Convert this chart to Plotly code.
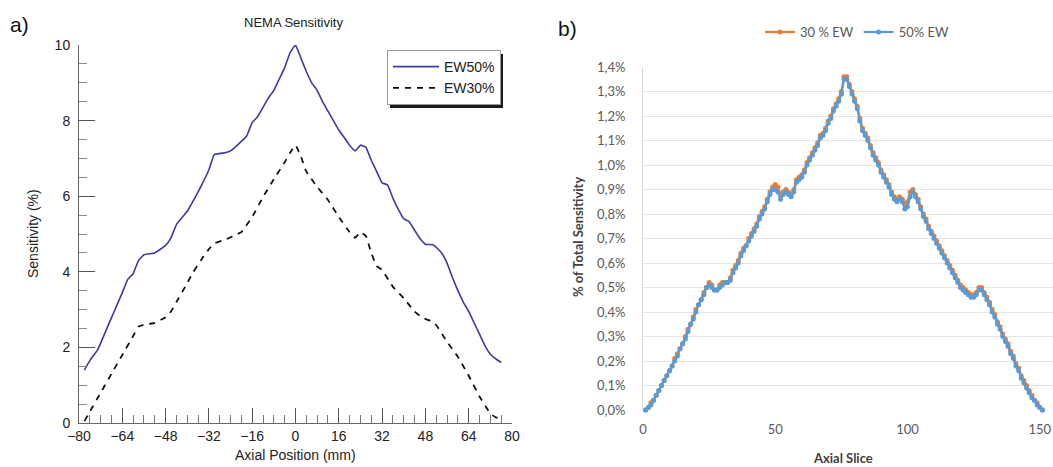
import plotly.graph_objects as go

# ---------------- Panel a) data ----------------
ew50_x = [-78, -76, -73, -70, -67, -64, -62, -60, -58, -56, -52, -48, -46, -44, -40, -38, -35, -32, -30,
          -26, -24, -20, -18, -16, -14, -12, -10, -8, -6, -4, -2, 0, 2, 4, 6, 8, 10, 12, 14, 16, 18, 20,
          22, 24, 26, 28, 30, 32, 34, 36, 38, 40, 42, 44, 46, 48, 51, 54, 56, 58, 60, 62, 64, 66, 68, 70,
          72, 74, 76]
ew50_y = [1.40, 1.65, 1.95, 2.45, 2.95, 3.45, 3.80, 3.95, 4.30, 4.45, 4.50, 4.70, 4.90, 5.25, 5.60, 5.85,
          6.25, 6.70, 7.10, 7.15, 7.20, 7.45, 7.60, 7.95, 8.10, 8.35, 8.60, 8.80, 9.10, 9.40, 9.80, 10.0,
          9.65, 9.30, 9.00, 8.80, 8.50, 8.25, 8.00, 7.75, 7.55, 7.35, 7.20, 7.35, 7.30, 6.95, 6.65, 6.35,
          6.30, 5.95, 5.65, 5.40, 5.33, 5.10, 4.88, 4.73, 4.71, 4.50, 4.23, 3.85, 3.50, 3.20, 2.95, 2.65,
          2.35, 2.05, 1.82, 1.70, 1.60]

ew30_x = [-78, -76, -72, -68, -64, -60, -58, -56, -52, -48, -46, -44, -40, -38, -35, -32, -30, -26, -22,
          -20, -16, -12, -8, -4, -2, 0, 2, 4, 8, 12, 16, 20, 22, 24, 26, 28, 30, 32, 36, 40, 44, 47, 50,
          52, 56, 60, 64, 68, 72, 74, 76]
ew30_y = [0.05, 0.30, 0.80, 1.30, 1.80, 2.30, 2.55, 2.60, 2.65, 2.80, 2.95, 3.20, 3.70, 3.97, 4.30, 4.60,
          4.75, 4.85, 4.98, 5.05, 5.45, 5.98, 6.45, 6.90, 7.15, 7.35, 7.05, 6.65, 6.25, 5.90, 5.45, 5.05,
          4.90, 5.05, 4.95, 4.50, 4.15, 4.05, 3.60, 3.30, 2.95, 2.78, 2.70, 2.59, 2.15, 1.75, 1.25, 0.70,
          0.25, 0.15, 0.10]

a_xticks = [-80, -64, -48, -32, -16, 0, 16, 32, 48, 64, 80]
a_yticks = [0, 2, 4, 6, 8, 10]

# ---------------- Panel b) data ----------------
slices = list(range(1, 152))
ew30_pct = [0.00, 0.01, 0.03, 0.04, 0.06, 0.08, 0.10, 0.12, 0.14, 0.16,
            0.18, 0.21, 0.23, 0.25, 0.27, 0.30, 0.33, 0.35, 0.38, 0.41,
            0.43, 0.45, 0.48, 0.50, 0.52, 0.51, 0.49, 0.49, 0.51, 0.52,
            0.52, 0.52, 0.54, 0.57, 0.59, 0.61, 0.64, 0.66, 0.67, 0.70,
            0.72, 0.74, 0.76, 0.79, 0.81, 0.83, 0.86, 0.89, 0.91, 0.92,
            0.91, 0.88, 0.89, 0.90, 0.89, 0.88, 0.90, 0.94, 0.95, 0.96,
            0.98, 1.01, 1.03, 1.05, 1.07, 1.09, 1.12, 1.13, 1.15, 1.18,
            1.20, 1.23, 1.25, 1.27, 1.30, 1.36, 1.36, 1.33, 1.30, 1.27,
            1.24, 1.19, 1.15, 1.13, 1.11, 1.08, 1.05, 1.03, 1.01, 0.98,
            0.96, 0.94, 0.92, 0.89, 0.87, 0.86, 0.87, 0.86, 0.84, 0.85,
            0.89, 0.90, 0.88, 0.86, 0.83, 0.80, 0.78, 0.75, 0.73, 0.71,
            0.69, 0.67, 0.65, 0.63, 0.61, 0.59, 0.57, 0.55, 0.53, 0.51,
            0.50, 0.49, 0.48, 0.47, 0.47, 0.48, 0.50, 0.50, 0.48, 0.46,
            0.44, 0.41, 0.39, 0.36, 0.34, 0.31, 0.29, 0.27, 0.24, 0.22,
            0.19, 0.17, 0.14, 0.12, 0.10, 0.08, 0.06, 0.04, 0.03, 0.01,
            0.00]
ew50_pct = [0.00, 0.01, 0.02, 0.04, 0.06, 0.08, 0.10, 0.12, 0.14, 0.16,
            0.18, 0.20, 0.22, 0.25, 0.27, 0.29, 0.32, 0.35, 0.37, 0.40,
            0.43, 0.45, 0.47, 0.50, 0.51, 0.50, 0.49, 0.49, 0.50, 0.51,
            0.52, 0.52, 0.53, 0.56, 0.58, 0.60, 0.63, 0.65, 0.67, 0.69,
            0.71, 0.73, 0.75, 0.78, 0.80, 0.82, 0.85, 0.88, 0.90, 0.90,
            0.89, 0.86, 0.88, 0.89, 0.88, 0.87, 0.89, 0.93, 0.94, 0.95,
            0.97, 1.00, 1.02, 1.04, 1.06, 1.08, 1.11, 1.12, 1.14, 1.17,
            1.19, 1.22, 1.24, 1.26, 1.29, 1.35, 1.35, 1.32, 1.29, 1.26,
            1.23, 1.18, 1.14, 1.12, 1.10, 1.07, 1.04, 1.02, 1.00, 0.97,
            0.95, 0.93, 0.91, 0.88, 0.86, 0.85, 0.86, 0.85, 0.82, 0.83,
            0.87, 0.89, 0.87, 0.85, 0.82, 0.79, 0.77, 0.74, 0.72, 0.70,
            0.68, 0.66, 0.64, 0.62, 0.60, 0.58, 0.56, 0.54, 0.52, 0.50,
            0.49, 0.48, 0.47, 0.46, 0.46, 0.47, 0.49, 0.49, 0.47, 0.45,
            0.43, 0.40, 0.38, 0.35, 0.33, 0.30, 0.28, 0.26, 0.23, 0.21,
            0.18, 0.16, 0.13, 0.11, 0.09, 0.07, 0.05, 0.04, 0.02, 0.01,
            0.00]
b_xticks = [0, 50, 100, 150]
b_yticks = [i / 10 for i in range(15)]
b_yticktext = [f"{v:.1f}".replace(".", ",") + "%" for v in b_yticks]

W, H = 1053, 467


def px(x):
    return x / W


def py(y):
    return 1 - y / H


fig = go.Figure()

# Panel a) traces
fig.add_trace(go.Scatter(x=ew50_x, y=ew50_y, mode="lines", name="EW50%",
                         line=dict(color="#3b3ba3", width=1.6, shape="spline", smoothing=0.3),
                         xaxis="x", yaxis="y", legend="legend"))
fig.add_trace(go.Scatter(x=ew30_x, y=ew30_y, mode="lines", name="EW30%",
                         line=dict(color="#111111", width=1.8, dash="6px,6px", shape="spline", smoothing=0.3),
                         xaxis="x", yaxis="y", legend="legend"))

# Panel b) traces
fig.add_trace(go.Scatter(x=slices, y=ew30_pct, mode="lines+markers", name="30 % EW",
                         line=dict(color="#ED7D31", width=2.2),
                         marker=dict(color="#ED7D31", size=5),
                         xaxis="x2", yaxis="y2", legend="legend2", cliponaxis=False))
fig.add_trace(go.Scatter(x=slices, y=ew50_pct, mode="lines+markers", name="50% EW",
                         line=dict(color="#5B9BD5", width=2.2),
                         marker=dict(color="#5B9BD5", size=5),
                         xaxis="x2", yaxis="y2", legend="legend2", cliponaxis=False))

afont = dict(family="Liberation Sans, Arial, sans-serif", size=14, color="#222222")
bfont = dict(family="Lato, Open Sans, sans-serif", size=13, color="#595959")

fig.update_layout(
    width=W, height=H,
    margin=dict(l=0, r=0, t=0, b=0, autoexpand=False),
    paper_bgcolor="white", plot_bgcolor="white",
    showlegend=True,
    xaxis=dict(domain=[px(79), px(512)], range=[-80, 80], tickvals=a_xticks,
               ticks="inside", ticklen=15, tickcolor="#555", tickwidth=1,
               minor=dict(dtick=4, tick0=0, ticks="inside", ticklen=8, tickcolor="#777"),
               showline=True, linecolor="#666", linewidth=1, showgrid=False, zeroline=False,
               tickfont=afont, anchor="y", automargin=False, ticklabelstandoff=0),
    yaxis=dict(domain=[py(423), py(45)], range=[0, 10], tickvals=a_yticks,
               ticks="inside", ticklen=16, tickcolor="#555", tickwidth=1,
               minor=dict(dtick=0.5, tick0=0, ticks="inside", ticklen=8, tickcolor="#888"),
               showline=True, linecolor="#666", linewidth=1, showgrid=False, zeroline=False,
               tickfont=afont, anchor="x", automargin=False, ticklabelstandoff=5),
    xaxis2=dict(domain=[px(643), 1.0], range=[0, 155], tickvals=b_xticks,
                ticks="", showline=False, showgrid=False, zeroline=False,
                tickfont=bfont, anchor="y2", automargin=False, ticklabelstandoff=10),
    yaxis2=dict(domain=[py(410), py(67)], range=[0, 1.4], tickvals=b_yticks, ticktext=b_yticktext,
                ticks="", showline=True, linecolor="#d9d9d9", showgrid=True, gridcolor="#e4e4e4",
                gridwidth=1, zeroline=False, tickfont=bfont, anchor="x2", ticklabelstandoff=14,
                automargin=False),
    legend=dict(x=px(387), y=py(50), xanchor="left", yanchor="top",
                bgcolor="white", bordercolor="#999", borderwidth=1,
                font=dict(family="Liberation Sans, Arial, sans-serif", size=14, color="#222"),
                tracegroupgap=0, itemwidth=46),
    legend2=dict(x=px(760), y=py(32), xanchor="left", yanchor="middle",
                 orientation="h", bgcolor="rgba(0,0,0,0)",
                 font=dict(family="Lato, Open Sans, sans-serif", size=13, color="#595959")),
    shapes=[dict(type="rect", xref="paper", yref="paper",
                 x0=px(390), x1=px(503), y0=py(108), y1=py(54),
                 fillcolor="#1a1a1a", line=dict(width=0), layer="above")],
    annotations=[
        dict(text="a)", x=px(8), y=py(25), xref="paper", yref="paper", xanchor="left", yanchor="middle",
             showarrow=False, font=dict(family="Liberation Sans, Arial, sans-serif", size=21, color="#111")),
        dict(text="b)", x=px(556), y=py(28), xref="paper", yref="paper", xanchor="left", yanchor="middle",
             showarrow=False, font=dict(family="Liberation Sans, Arial, sans-serif", size=21, color="#111")),
        dict(text="NEMA Sensitivity", x=px(293), y=py(22), xref="paper", yref="paper",
             xanchor="center", yanchor="middle", showarrow=False,
             font=dict(family="Liberation Sans, Arial, sans-serif", size=13, color="#222")),
        dict(text="Sensitivity (%)", x=px(33), y=py(234), xref="paper", yref="paper",
             xanchor="center", yanchor="middle", textangle=-90, showarrow=False,
             font=dict(family="Liberation Sans, Arial, sans-serif", size=14, color="#222")),
        dict(text="Axial Position (mm)", x=px(295), y=py(455), xref="paper", yref="paper",
             xanchor="center", yanchor="middle", showarrow=False,
             font=dict(family="Liberation Sans, Arial, sans-serif", size=14, color="#222")),
        dict(text="<b>% of Total Sensitivity</b>", x=px(578), y=py(237), xref="paper", yref="paper",
             xanchor="center", yanchor="middle", textangle=-90, showarrow=False,
             font=dict(family="Lato, Open Sans, sans-serif", size=13, color="#404040")),
        dict(text="<b>Axial Slice</b>", x=px(843), y=py(458), xref="paper", yref="paper",
             xanchor="center", yanchor="middle", showarrow=False,
             font=dict(family="Lato, Open Sans, sans-serif", size=13, color="#404040")),
    ],
)

fig.write_html("out.html", config={"displayModeBar": False},
               post_script="document.body.style.margin='0px';document.body.style.overflow='hidden';")
